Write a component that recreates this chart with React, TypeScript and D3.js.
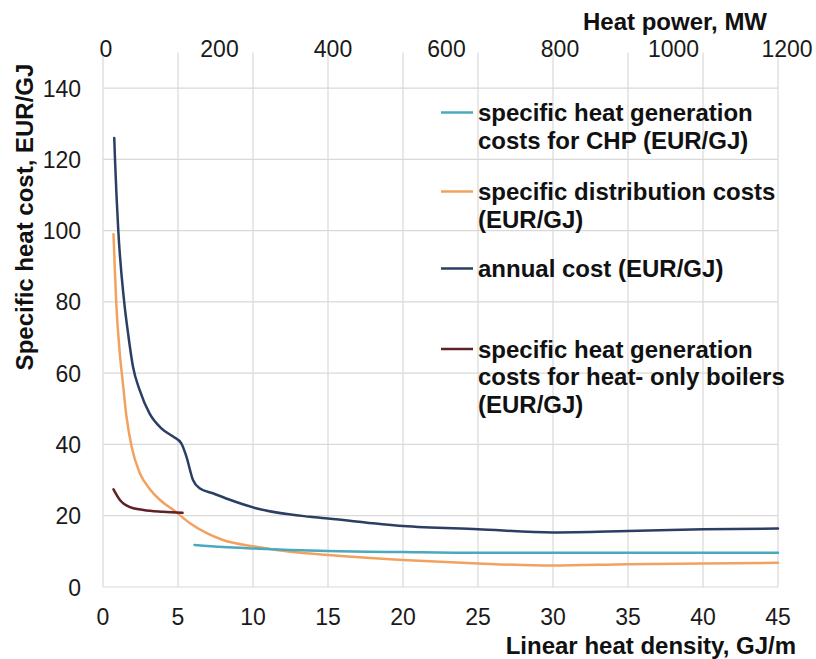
import React from "react";
import * as d3 from "d3";

// ---- data ----
const chpX = [6.1, 8, 10, 12.5, 15, 20, 25, 30, 35, 40, 45];
const chpY = [11.8, 11.2, 10.8, 10.4, 10.1, 9.8, 9.6, 9.6, 9.6, 9.6, 9.6];

const distX = [0.7, 0.78, 0.88, 1.1, 1.33, 1.56, 1.9, 2.45, 3.1, 3.8, 4.7, 5.8, 8, 10.2, 12.5, 15, 20, 25, 30, 35, 40, 45];
const distY = [99, 90, 80, 66.5, 57, 48, 39.5, 32, 27.6, 24.4, 21.6, 17.9, 13.2, 11.3, 9.9, 9.0, 7.6, 6.6, 6.0, 6.4, 6.6, 6.8];

const annualX = [0.75, 0.8, 1.02, 1.4, 1.67, 2.0, 2.44, 3.1, 3.89, 4.67, 5.22, 5.56, 6.0, 6.44, 7.33, 8.5, 10.2, 13.8, 15, 20, 25, 30, 35, 40, 45];
const annualY = [126, 120, 100, 80.5, 71.2, 61.8, 55.3, 48.7, 44.5, 42.2, 40.3, 36.6, 30.0, 27.7, 26.3, 24.4, 22.1, 19.7, 19.2, 17.1, 16.2, 15.3, 15.7, 16.2, 16.4];

const hobX = [0.7, 1.13, 1.8, 2.7, 4.0, 5.3];
const hobY = [27.4, 24.4, 22.4, 21.6, 21.1, 20.8];

const xTicks = [0, 5, 10, 15, 20, 25, 30, 35, 40, 45];
const yTicks = [0, 20, 40, 60, 80, 100, 120, 140];
const topTicks = [0, 200, 400, 600, 800, 1000, 1200];

const seriesNames = ["chp", "dist", "annual", "hob"];
const seriesColors = ["#4aa8bf", "#f2a25e", "#2a3f63", "#5e2126"];
const legendLabels = [
  ["specific heat generation", "costs for CHP (EUR/GJ)"],
  ["specific distribution costs", "(EUR/GJ)"],
  ["annual cost (EUR/GJ)"],
  ["specific heat generation", "costs for heat- only boilers", "(EUR/GJ)"],
];

const xTitle = "Linear heat density, GJ/m";
const topTitle = "Heat power, MW";
const yTitle = "Specific heat cost, EUR/GJ";

const FONT = "'Liberation Sans', Arial, sans-serif";

export default function App() {
  const W = 816, H = 659;
  const x = d3.scaleLinear().domain([0, 45]).range([103, 778]);
  const y = d3.scaleLinear().domain([0, 150]).range([587, 52.4]);
  const xTop = d3.scaleLinear().domain([0, 1200]).range([106, 787]);

  const seriesData = [
    chpX.map((v, i) => [v, chpY[i]]),
    distX.map((v, i) => [v, distY[i]]),
    annualX.map((v, i) => [v, annualY[i]]),
    hobX.map((v, i) => [v, hobY[i]]),
  ] as [number, number][][];

  const line = d3
    .line<[number, number]>()
    .x((d) => x(d[0]))
    .y((d) => y(d[1]))
    .curve(d3.curveMonotoneX);

  const legendBaselines = [121, 200, 277, 357.5];
  const lineGap = 27.5;
  const drawOrder = [1, 0, 3, 2];

  return (
    <svg
      width={W}
      height={H}
      style={{ position: "absolute", left: 0, top: 0, background: "#fff" }}
      fontFamily={FONT}
    >
      <g stroke="#d9d9d9" strokeWidth={1.2}>
        {xTicks.map((t) => (
          <line key={"vx" + t} x1={x(t)} x2={x(t)} y1={y(150)} y2={y(0)} />
        ))}
        {yTicks.map((t) => (
          <line key={"hy" + t} x1={x(0)} x2={x(45)} y1={y(t)} y2={y(t)} />
        ))}
      </g>

      {drawOrder.map((i) => (
        <path
          key={seriesNames[i]}
          d={line(seriesData[i]) || ""}
          fill="none"
          stroke={seriesColors[i]}
          strokeWidth={2.5}
          strokeLinejoin="round"
          strokeLinecap="round"
        />
      ))}

      <g fontSize={23} fill="#1a1a1a" textAnchor="middle">
        {xTicks.map((t) => (
          <text key={"xl" + t} x={x(t)} y={625}>
            {t}
          </text>
        ))}
      </g>
      <g fontSize={23} fill="#1a1a1a" textAnchor="end">
        {yTicks.map((t) => (
          <text key={"yl" + t} x={81} y={y(t) + 8.5}>
            {t}
          </text>
        ))}
      </g>
      <g fontSize={23} fill="#1a1a1a" textAnchor="middle">
        {topTicks.map((t) => (
          <text key={"tl" + t} x={xTop(t)} y={57}>
            {t}
          </text>
        ))}
      </g>

      <text x={796} y={654} fontSize={24} fontWeight="bold" textAnchor="end" fill="#111">
        {xTitle}
      </text>
      <text x={583} y={29.5} fontSize={24} fontWeight="bold" fill="#111">
        {topTitle}
      </text>
      <text
        transform="translate(33,217) rotate(-90)"
        fontSize={24}
        fontWeight="bold"
        textAnchor="middle"
        fill="#111"
      >
        {yTitle}
      </text>

      {legendLabels.map((lines, i) => (
        <g key={"lg" + i}>
          <line
            x1={441}
            x2={473}
            y1={legendBaselines[i] - 8.5}
            y2={legendBaselines[i] - 8.5}
            stroke={seriesColors[i]}
            strokeWidth={2.5}
          />
          {lines.map((s, j) => (
            <text
              key={j}
              x={478}
              y={legendBaselines[i] + j * lineGap}
              fontSize={24}
              fontWeight="bold"
              fill="#111"
            >
              {s}
            </text>
          ))}
        </g>
      ))}
    </svg>
  );
}
